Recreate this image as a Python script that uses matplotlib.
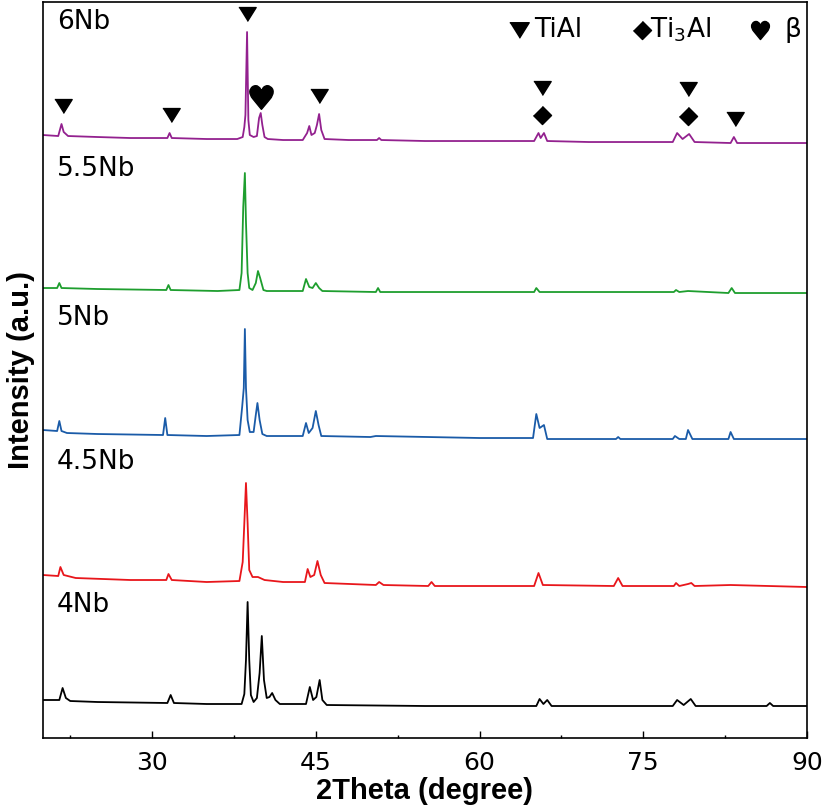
import numpy as np
import matplotlib
matplotlib.use('Agg')
import matplotlib.pyplot as plt
from matplotlib.ticker import MultipleLocator

plt.rcParams['font.family'] = ['DejaVu Sans']

# XRD traces, vertices (2theta, intensity above own baseline)
tt_6nb = [20.0, 21.4, 21.7, 21.9, 22.3, 25, 28, 31.4, 31.6, 31.8, 35, 37.8, 38.3, 38.45, 38.55,
          38.7, 38.82, 38.95, 39.3, 39.6, 39.8, 39.95, 40.1, 40.3, 40.6, 42, 43.8, 44.2, 44.4,
          44.6, 44.9, 45.1, 45.3, 45.5, 45.8, 48, 50.6, 50.8, 51.0, 55, 60, 65.0, 65.4, 65.6,
          65.9, 66.2, 70, 77.7, 78.1, 78.6, 79.2, 79.7, 83.0, 83.3, 83.6, 90]
i_6nb = [0, -1, 11, 3, -1, -2, -3, -3, 2, -3, -4, -4, -2, 8, 20,
         103, 15, 0, -2, -1, 17, 22, 10, -2, -4, -5, -5, 2, 9,
         0, 2, 10, 21, 5, -4, -5, -5, -3, -5, -6, -6, -6, 2, -3,
         2, -6, -7, -7, 2, -4, 1, -7, -8, -2, -8, -8]

tt_55nb = [20.0, 21.3, 21.5, 21.7, 25, 31.3, 31.5, 31.7, 36, 38.0, 38.2, 38.35, 38.5, 38.6,
           38.75, 38.9, 39.2, 39.5, 39.7, 39.9, 40.2, 40.5, 43.8, 44.1, 44.4, 44.7, 45.0, 45.3,
           45.6, 50.5, 50.7, 50.9, 60, 65.0, 65.2, 65.5, 77.8, 78.0, 78.3, 79.1, 82.8, 83.1,
           83.4, 90]
i_55nb = [0, 0, 5, 0, -1, -2, 3, -2, -3, -2, 15, 81, 115, 66,
          15, 0, -2, 5, 17, 10, -2, -3, -3, 9, 1, 0, 5, 0,
          -3, -4, 0, -4, -4, -4, 0, -4, -4, -2, -4, -3, -5, 0,
          -5, -5]

tt_5nb = [20.0, 21.3, 21.5, 21.7, 22.2, 25, 31.0, 31.2, 31.4, 35, 38.0, 38.25, 38.4, 38.5,
          38.6, 38.75, 38.95, 39.3, 39.5, 39.65, 39.85, 40.1, 40.5, 43.8, 44.1, 44.35, 44.7,
          45.0, 45.25, 45.5, 50, 50.5, 60, 64.9, 65.2, 65.5, 65.9, 66.2, 72.5, 72.7, 72.9,
          77.7, 77.9, 78.3, 78.9, 79.1, 79.5, 82.8, 83.0, 83.3, 90]
i_5nb = [0, -1, 9, -1, -3, -4, -5, 12, -5, -6, -5, 23, 42, 101,
         42, 10, -2, -2, 15, 27, 10, -4, -6, -6, 7, -3, 2,
         19, 5, -6, -7, -6, -8, -8, 16, 2, 5, -9, -9, -7, -9,
         -9, -6, -9, -9, 0, -9, -9, -2, -9, -9]

tt_45nb = [20.0, 21.4, 21.6, 21.9, 23, 28, 31.3, 31.5, 31.8, 35, 38.0, 38.3, 38.45, 38.6,
           38.75, 38.9, 39.2, 39.7, 40.3, 42, 44.0, 44.25, 44.5, 44.85, 45.15, 45.45, 45.8,
           50.5, 50.8, 51.2, 55.3, 55.6, 55.9, 65.0, 65.4, 65.8, 72.3, 72.7, 73.1, 77.8, 78.0,
           78.3, 79.1, 79.4, 79.7, 83.0, 90]
i_45nb = [0, -1, 8, 0, -3, -5, -5, 1, -5, -7, -6, 13, 52, 92,
          52, 5, -2, -2, -5, -7, -7, 6, -2, 0, 14, 0, -8,
          -10, -7, -10, -11, -7, -11, -11, 2, -10, -11, -3, -11, -11, -8,
          -11, -9, -8, -11, -10, -12]

tt_4nb = [20.0, 21.5, 21.8, 22.1, 22.5, 25, 31.4, 31.7, 32.0, 35, 38.2, 38.45, 38.6, 38.75,
          38.9, 39.05, 39.3, 39.6, 39.85, 40.05, 40.25, 40.5, 40.75, 41.0, 41.3, 41.7, 44.1,
          44.45, 44.75, 45.05, 45.35, 45.6, 46, 55, 65.2, 65.5, 65.85, 66.2, 66.6, 77.7, 78.1,
          78.7, 79.35, 79.8, 86.3, 86.6, 86.9, 90]
i_4nb = [0, 0, 12, 2, -1, -2, -3, 5, -3, -4, -4, 6, 40, 98,
         40, 5, -2, 2, 27, 64, 20, 2, 3, 7, 0, -4, -4,
         13, 0, 3, 20, 0, -5, -6, -6, 1, -4, 0, -6, -6, 0,
         -5, 1, -6, -6, -3, -6, -6]

samples = ['6Nb', '5.5Nb', '5Nb', '4.5Nb', '4Nb']
offsets = [603, 450, 308, 163, 38]
colors = ['#93218F', '#1E9E2E', '#1A5BA8', '#E8161B', '#000000']
traces = [(tt_6nb, i_6nb), (tt_55nb, i_55nb), (tt_5nb, i_5nb), (tt_45nb, i_45nb), (tt_4nb, i_4nb)]

# phase marks on the 6Nb pattern
tial_pos = [21.8, 31.7, 38.7, 45.3, 65.7, 79.1, 83.4]
ti3al_pos = [65.7, 79.1]
beta_pos = [40.0]

tri = [(-1, 0.8), (1, 0.8), (0, -0.8)]
dia = [(0, 1), (1, 0), (0, -1), (-1, 0)]

fig = plt.figure(figsize=(8.26, 8.07), dpi=100)
ax = fig.add_axes([0.052, 0.0855, 0.925, 0.912])

for (tt, ii), off, c in zip(traces, offsets, colors):
    ax.plot(tt, np.array(ii) + off, color=c, lw=1.3)


def mark_y(pos, stack=0):
    tt = np.array(tt_6nb)
    ii = np.array(i_6nb)
    near = np.abs(tt - pos) < 0.5
    return ii[near].max() + offsets[0] + 18 + 27 * stack


for p in tial_pos:
    st = 1 if p in ti3al_pos else 0
    ax.plot(p, mark_y(p, st), marker=tri, ms=12.5, color='black', ls='none')
for p in ti3al_pos:
    ax.plot(p, mark_y(p), marker=dia, ms=13, color='black', ls='none')
for p in beta_pos:
    ax.plot(p, mark_y(p) - 2, marker='$\u2665$', ms=17, color='black', ls='none')

# legend row in the top right corner
ax.plot(0.623, 0.962, marker=tri, ms=14, color='black', transform=ax.transAxes, clip_on=False)
ax.text(0.643, 0.962, 'TiAl', transform=ax.transAxes, fontsize=19, va='center', ha='left')
ax.plot(0.784, 0.962, marker=dia, ms=13, color='black', transform=ax.transAxes, clip_on=False)
ax.text(0.795, 0.962, r'Ti$_\mathregular{3}$Al', transform=ax.transAxes, fontsize=19,
        va='center', ha='left')
ax.plot(0.938, 0.962, marker='$\u2665$', ms=13, color='black', transform=ax.transAxes, clip_on=False)
ax.text(0.970, 0.962, '\u03b2', transform=ax.transAxes, fontsize=19, va='center', ha='left')

label_y = [0.973, 0.773, 0.571, 0.375, 0.181]
for s, ly in zip(samples, label_y):
    ax.text(0.018, ly, s, transform=ax.transAxes, fontsize=19, va='center', ha='left')

ax.set_xlim(20, 90)
ax.set_ylim(0, 736)
ax.xaxis.set_major_locator(MultipleLocator(15))
ax.xaxis.set_minor_locator(MultipleLocator(7.5))
ax.tick_params(axis='x', which='major', direction='in', length=5, width=1, labelsize=18, pad=9, top=False)
ax.tick_params(axis='x', which='minor', direction='in', length=2.5, width=1, top=False)
ax.set_yticks([])
for sp in ax.spines.values():
    sp.set_linewidth(1.2)

ax.set_xlabel('2Theta (degree)', fontsize=21, fontweight='bold', family='Liberation Sans', labelpad=2)
ax.set_ylabel('Intensity (a.u.)', fontsize=21, fontweight='bold', family='Liberation Sans', labelpad=6)

fig.savefig('out.png', dpi=100)
